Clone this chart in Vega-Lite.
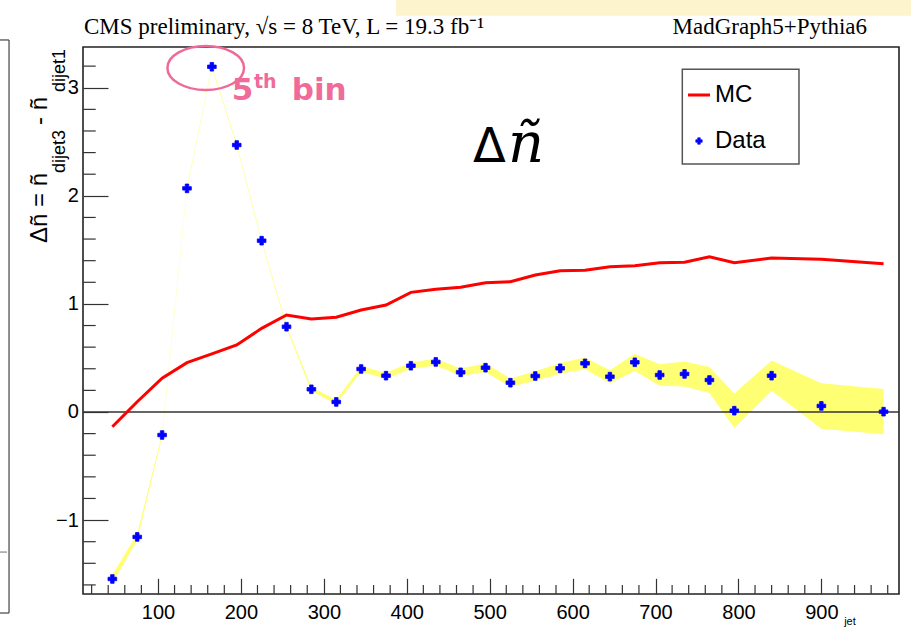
{
  "$schema": "https://vega.github.io/schema/vega-lite/v6.json",
  "width": 816,
  "height": 547,
  "autosize": {"type": "none"},
  "padding": {"left": 83, "top": 47, "right": 12, "bottom": 34},
  "background": "white",
  "config": {
    "view": {"stroke": "#222222", "strokeWidth": 1.6},
    "axis": {"labelOverlap": false, "grid": false, "domain": false, "tickColor": "#333333", "tickWidth": 1.2, "labelColor": "#000000", "labelFont": "Liberation Sans", "labelFontSize": 20}
  },
  "data": {
    "values": [
      {"pt": 45, "mc": -0.136, "data": -1.545, "err": 0.04},
      {"pt": 75, "mc": 0.095, "data": -1.156, "err": 0.03},
      {"pt": 105, "mc": 0.312, "data": -0.213, "err": 0.015},
      {"pt": 135, "mc": 0.456, "data": 2.069, "err": 0.01},
      {"pt": 165, "mc": 0.537, "data": 3.194, "err": 0.01},
      {"pt": 195, "mc": 0.62, "data": 2.47, "err": 0.01},
      {"pt": 225, "mc": 0.774, "data": 1.585, "err": 0.01},
      {"pt": 255, "mc": 0.897, "data": 0.789, "err": 0.012},
      {"pt": 285, "mc": 0.86, "data": 0.21, "err": 0.018},
      {"pt": 315, "mc": 0.876, "data": 0.093, "err": 0.02},
      {"pt": 345, "mc": 0.944, "data": 0.398, "err": 0.025},
      {"pt": 375, "mc": 0.99, "data": 0.336, "err": 0.028},
      {"pt": 405, "mc": 1.107, "data": 0.428, "err": 0.03},
      {"pt": 435, "mc": 1.135, "data": 0.463, "err": 0.032},
      {"pt": 465, "mc": 1.154, "data": 0.367, "err": 0.035},
      {"pt": 495, "mc": 1.196, "data": 0.41, "err": 0.04},
      {"pt": 525, "mc": 1.205, "data": 0.271, "err": 0.04},
      {"pt": 555, "mc": 1.267, "data": 0.333, "err": 0.045},
      {"pt": 585, "mc": 1.307, "data": 0.404, "err": 0.05},
      {"pt": 615, "mc": 1.311, "data": 0.45, "err": 0.055},
      {"pt": 645, "mc": 1.344, "data": 0.327, "err": 0.06},
      {"pt": 675, "mc": 1.353, "data": 0.46, "err": 0.08},
      {"pt": 705, "mc": 1.381, "data": 0.342, "err": 0.1},
      {"pt": 735, "mc": 1.385, "data": 0.352, "err": 0.115},
      {"pt": 765, "mc": 1.437, "data": 0.296, "err": 0.12},
      {"pt": 795, "mc": 1.381, "data": 0.012, "err": 0.16},
      {"pt": 840, "mc": 1.425, "data": 0.336, "err": 0.14},
      {"pt": 900, "mc": 1.413, "data": 0.056, "err": 0.21},
      {"pt": 975, "mc": 1.372, "data": 0.003, "err": 0.21}
    ]
  },
  "layer": [
    {
      "mark": {"type": "errorband", "color": "#ffff00", "opacity": 0.55},
      "encoding": {
        "x": {"field": "pt", "type": "quantitative"},
        "y": {"field": "data", "type": "quantitative"},
        "yError": {"field": "err"}
      }
    },
    {
      "data": {"values": [{"tick": 20}, {"tick": 40}, {"tick": 60}, {"tick": 80}, {"tick": 120}, {"tick": 140}, {"tick": 160}, {"tick": 180}, {"tick": 220}, {"tick": 240}, {"tick": 260}, {"tick": 280}, {"tick": 320}, {"tick": 340}, {"tick": 360}, {"tick": 380}, {"tick": 420}, {"tick": 440}, {"tick": 460}, {"tick": 480}, {"tick": 520}, {"tick": 540}, {"tick": 560}, {"tick": 580}, {"tick": 620}, {"tick": 640}, {"tick": 660}, {"tick": 680}, {"tick": 720}, {"tick": 740}, {"tick": 760}, {"tick": 780}, {"tick": 820}, {"tick": 840}, {"tick": 860}, {"tick": 880}, {"tick": 920}, {"tick": 940}, {"tick": 960}, {"tick": 980}]},
      "mark": {"type": "rule", "color": "#333333", "strokeWidth": 1.2},
      "encoding": {
        "x": {"field": "tick", "type": "quantitative"},
        "y": {"datum": -1.684},
        "y2": {"datum": -1.6007}
      }
    },
    {
      "data": {"values": [{"tick": -1.6}, {"tick": -1.4}, {"tick": -1.2}, {"tick": -0.8}, {"tick": -0.6}, {"tick": -0.4}, {"tick": -0.2}, {"tick": 0.2}, {"tick": 0.4}, {"tick": 0.6}, {"tick": 0.8}, {"tick": 1.2}, {"tick": 1.4}, {"tick": 1.6}, {"tick": 1.8}, {"tick": 2.2}, {"tick": 2.4}, {"tick": 2.6}, {"tick": 2.8}, {"tick": 3.2}]},
      "mark": {"type": "rule", "color": "#333333", "strokeWidth": 1.2},
      "encoding": {
        "y": {"field": "tick", "type": "quantitative"},
        "x": {"datum": 9.6},
        "x2": {"datum": 24.91}
      }
    },
    {
      "data": {"values": [{}]},
      "layer": [
        {
          "mark": {"type": "rect", "color": "#fdf3cc"},
          "encoding": {
            "x": {"datum": 387},
            "x2": {"datum": 1008},
            "y": {"datum": 3.812},
            "y2": {"datum": 3.667}
          }
        },
        {
          "mark": {"type": "rule", "color": "#333333", "strokeWidth": 1.3},
          "encoding": {"y": {"datum": 0}}
        },
        {
          "mark": {"type": "rule", "color": "#444444", "strokeWidth": 1.2},
          "encoding": {
            "x": {"datum": -79.6},
            "y": {"datum": 3.442},
            "y2": {"datum": -1.86}
          }
        },
        {
          "mark": {"type": "rule", "color": "#444444", "strokeWidth": 1.2},
          "encoding": {
            "x": {"datum": -90.5},
            "x2": {"datum": -79.6},
            "y": {"datum": 3.442}
          }
        },
        {
          "mark": {"type": "rule", "color": "#444444", "strokeWidth": 1.2},
          "encoding": {
            "x": {"datum": -90.5},
            "x2": {"datum": -79.6},
            "y": {"datum": -1.86}
          }
        },
        {
          "mark": {"type": "rule", "color": "#888888", "strokeWidth": 1.2},
          "encoding": {
            "x": {"datum": -90.5},
            "x2": {"datum": -82},
            "y": {"datum": -1.296}
          }
        },
        {
          "mark": {"type": "text", "text": "CMS preliminary, √s = 8 TeV, L = 19.3 fb⁻¹", "font": "Liberation Serif", "fontSize": 23, "align": "left", "baseline": "alphabetic", "color": "#000000"},
          "encoding": {
            "x": {"datum": 10.8},
            "y": {"datum": 3.497}
          }
        },
        {
          "mark": {"type": "text", "text": "MadGraph5+Pythia6", "font": "Liberation Serif", "fontSize": 23, "align": "right", "baseline": "alphabetic", "color": "#000000"},
          "encoding": {
            "x": {"datum": 955},
            "y": {"datum": 3.497}
          }
        },
        {
          "mark": {"type": "text", "text": "Δñ = ñ", "font": "Liberation Sans", "fontSize": 24, "angle": 270, "align": "left", "baseline": "alphabetic", "color": "#000000"},
          "encoding": {
            "x": {"datum": -33.8},
            "y": {"datum": 1.564}
          }
        },
        {
          "mark": {"type": "text", "text": "dijet3", "font": "Liberation Sans", "fontSize": 18, "angle": 270, "align": "left", "baseline": "alphabetic", "color": "#000000"},
          "encoding": {
            "x": {"datum": -12.1},
            "y": {"datum": 2.211}
          }
        },
        {
          "mark": {"type": "text", "text": "- ñ", "font": "Liberation Sans", "fontSize": 24, "angle": 270, "align": "left", "baseline": "alphabetic", "color": "#000000"},
          "encoding": {
            "x": {"datum": -33.8},
            "y": {"datum": 2.655}
          }
        },
        {
          "mark": {"type": "text", "text": "dijet1", "font": "Liberation Sans", "fontSize": 18, "angle": 270, "align": "left", "baseline": "alphabetic", "color": "#000000"},
          "encoding": {
            "x": {"datum": -12.1},
            "y": {"datum": 2.961}
          }
        },
        {
          "mark": {"type": "text", "text": "jet", "font": "Liberation Sans", "fontSize": 11, "align": "center", "baseline": "alphabetic", "color": "#000000"},
          "encoding": {
            "x": {"datum": 934.5},
            "y": {"datum": -1.971}
          }
        },
        {
          "mark": {"type": "text", "text": "Δ", "font": "DejaVu Sans", "fontSize": 48, "align": "left", "baseline": "alphabetic", "color": "#000000"},
          "encoding": {
            "x": {"datum": 479.9},
            "y": {"datum": 2.313}
          }
        },
        {
          "mark": {"type": "text", "text": "ñ", "font": "DejaVu Serif", "fontStyle": "italic", "fontSize": 56, "align": "left", "baseline": "alphabetic", "color": "#000000"},
          "encoding": {
            "x": {"datum": 522.1},
            "y": {"datum": 2.313}
          }
        }
      ]
    },
    {
      "mark": {"type": "line", "strokeWidth": 3},
      "encoding": {
        "x": {
          "field": "pt",
          "type": "quantitative",
          "scale": {"domain": [9.6, 993.6], "nice": false, "zero": false},
          "axis": {
            "title": null,
            "values": [100, 200, 300, 400, 500, 600, 700, 800, 900],
            "format": "d",
            "domain": false,
            "grid": false,
            "tickSize": -15.7,
            "labelPadding": 23.7,
            "labelOverlap": false
          }
        },
        "y": {
          "field": "mc",
          "type": "quantitative",
          "scale": {"domain": [-1.684, 3.377], "nice": false, "zero": false},
          "axis": {
            "title": null,
            "values": [-1, 0, 1, 2, 3],
            "format": ".0f",
            "domain": false,
            "grid": false,
            "tickSize": -25,
            "labelPadding": 29.7,
            "labelOverlap": false
          }
        },
        "color": {
          "datum": "MC",
          "type": "nominal",
          "scale": {"domain": ["MC", "Data"], "range": ["#ff0000", "#0000ff"]},
          "legend": {
            "title": null,
            "orient": "none",
            "legendX": 592,
            "legendY": 24,
            "padding": 12,
            "strokeColor": "transparent",
            "labelFont": "Liberation Sans",
            "labelFontSize": 24,
            "labelColor": "#000000",
            "labelOffset": 4,
            "symbolSize": 484,
            "rowPadding": 22,
            "encode": {
              "symbols": {
                "update": {
                  "shape": {"signal": "datum.value === 'MC' ? 'stroke' : 'cross'"},
                  "size": {"signal": "datum.value === 'MC' ? 484 : 40"},
                  "strokeWidth": {"signal": "datum.value === 'MC' ? 3 : 0.7"},
                  "fill": {"signal": "datum.value === 'MC' ? 'transparent' : '#0000ff'"},
                  "stroke": {"signal": "datum.value === 'MC' ? '#ff0000' : '#0000ff'"},
                  "opacity": {"value": 1}
                }
              }
            }
          }
        }
      }
    },
    {
      "mark": {"type": "point", "shape": "cross", "filled": true, "size": 75, "stroke": "#0000ff", "strokeWidth": 0.8, "opacity": 1},
      "encoding": {
        "x": {"field": "pt", "type": "quantitative"},
        "y": {"field": "data", "type": "quantitative"},
        "color": {"datum": "Data", "type": "nominal"}
      }
    },
    {
      "data": {"values": [{}]},
      "layer": [
        {
          "mark": {"type": "rect", "fill": "#ffffff", "stroke": "#555555", "strokeWidth": 1.5},
          "encoding": {
            "x": {"datum": 732.3},
            "x2": {"datum": 873},
            "y": {"datum": 3.171},
            "y2": {"datum": 2.294}
          }
        },
        {
          "mark": {"type": "point", "shape": "M-1,0A1,0.574,0,1,0,1,0A1,0.574,0,1,0,-1,0Z", "size": 5868, "filled": false, "stroke": "#ef6b97", "strokeWidth": 2.5, "opacity": 1},
          "encoding": {
            "x": {"datum": 157.6},
            "y": {"datum": 3.183}
          }
        },
        {
          "mark": {"type": "text", "text": "5", "font": "DejaVu Sans", "fontWeight": "bold", "fontSize": 31, "align": "left", "baseline": "alphabetic", "color": "#f06a9a"},
          "encoding": {
            "x": {"datum": 188.9},
            "y": {"datum": 2.887}
          }
        },
        {
          "mark": {"type": "text", "text": "th", "font": "DejaVu Sans", "fontWeight": "bold", "fontSize": 19, "align": "left", "baseline": "alphabetic", "color": "#f06a9a"},
          "encoding": {
            "x": {"datum": 215.8},
            "y": {"datum": 2.998}
          }
        },
        {
          "mark": {"type": "text", "text": "bin", "font": "DejaVu Sans", "fontWeight": "bold", "fontSize": 31, "align": "left", "baseline": "alphabetic", "color": "#f06a9a"},
          "encoding": {
            "x": {"datum": 261.3},
            "y": {"datum": 2.887}
          }
        }
      ]
    }
  ]
}
